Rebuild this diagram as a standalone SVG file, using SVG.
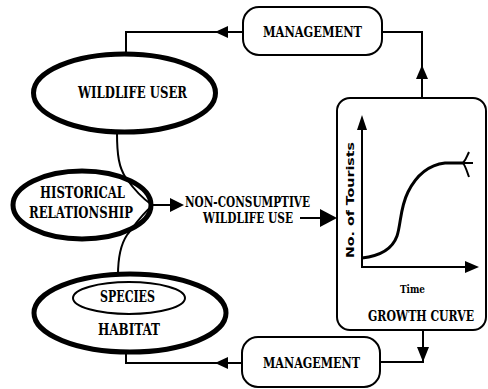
<svg xmlns="http://www.w3.org/2000/svg" width="488" height="389" viewBox="0 0 488 389">
<style>
.t{font-family:"DejaVu Serif Condensed","Liberation Serif",serif;font-weight:bold;fill:#000}
.thick{fill:none;stroke:#000;stroke-width:5}
.box{fill:#fff;stroke:#000;stroke-width:2}
.ln{fill:none;stroke:#000;stroke-width:2}
.ah{fill:#000;stroke:none}
</style>
<rect width="488" height="389" fill="#fff"/>
<g id="connectors">
  <path class="ln" d="M243,32 H126 V52"/>
  <path class="ah" d="M215,32 L228,26 L228,38 Z"/>
  <path class="ln" d="M382,32 H422 V98"/>
  <path class="ah" d="M422,65 L416,79 L428,79 Z"/>
  <path class="ln" d="M242,363 H126 V352"/>
  <path class="ah" d="M215,363 L228,357 L228,369 Z"/>
  <path class="ln" d="M423,330 V362 H380"/>
  <path class="ah" d="M423,362 L417,347 L429,347 Z"/>
  <path class="ln" d="M117,133 C117,155 119,168 126,178 C133,188 142,198 152,205"/>
  <path class="ln" d="M118,275 C118,255 121,244 127,235 C134,226 142,214 152,206"/>
  <path class="ln" d="M152,205 H172"/>
  <path class="ah" d="M184,205 L170,198 L170,212 Z"/>
  <path class="ln" d="M300,218 H322"/>
  <path class="ah" d="M337,218 L320,209 L320,227 Z"/>
</g>
<g id="management-top">
  <rect class="box" x="243" y="7" width="139" height="48" rx="16"/>
  <text class="t" x="263" y="37" font-size="14.5" textLength="99" lengthAdjust="spacingAndGlyphs">MANAGEMENT</text>
</g>
<g id="wildlife-user">
  <ellipse class="thick" cx="124.5" cy="93" rx="91" ry="39" fill="#fff"/>
  <text class="t" x="78" y="98" font-size="16" textLength="109" lengthAdjust="spacingAndGlyphs">WILDLIFE USER</text>
</g>
<g id="historical-relationship">
  <ellipse class="thick" cx="82" cy="205" rx="69" ry="34"/>
  <text class="t" x="40" y="198" font-size="16.5" textLength="85" lengthAdjust="spacingAndGlyphs">HISTORICAL</text>
  <text class="t" x="29" y="218" font-size="16.5" textLength="104" lengthAdjust="spacingAndGlyphs">RELATIONSHIP</text>
</g>
<g id="non-consumptive">
  <text class="t" x="185" y="207" font-size="14.5" textLength="125" lengthAdjust="spacingAndGlyphs">NON-CONSUMPTIVE</text>
  <text class="t" x="203" y="223" font-size="14.5" textLength="90" lengthAdjust="spacingAndGlyphs">WILDLIFE USE</text>
</g>
<g id="habitat">
  <ellipse class="thick" cx="130" cy="313" rx="96" ry="39"/>
  <ellipse cx="129" cy="298" rx="56" ry="16" fill="none" stroke="#000" stroke-width="2"/>
  <text class="t" x="100" y="302" font-size="16.5" textLength="55" lengthAdjust="spacingAndGlyphs">SPECIES</text>
  <text class="t" x="98" y="335" font-size="16.5" textLength="62" lengthAdjust="spacingAndGlyphs">HABITAT</text>
</g>
<g id="growth-curve">
  <rect class="box" x="337" y="98" width="149" height="232" rx="13"/>
  <path class="ln" d="M362,128 V267 H468"/>
  <path class="ah" d="M362,115 L357,130 L367,130 Z"/>
  <path class="ah" d="M479,267 L465,261 L465,273 Z"/>
  <path fill="none" stroke="#000" stroke-width="3" d="M362,258 C380,256 392,250 397,236 C401,224 400,208 408,192 C416,176 428,165 445,163 L463,163"/>
  <path fill="none" stroke="#000" stroke-width="2" d="M463,163 C466,160 467,156 469,152 M463,163 L473,163 M463,163 C466,167 467,172 469,177"/>
  <text x="354" y="200" transform="rotate(-90 354 200)" text-anchor="middle" font-family="DejaVu Sans,sans-serif" font-weight="bold" font-size="10.5" textLength="116" lengthAdjust="spacingAndGlyphs">No. of Tourists</text>
  <text class="t" x="400" y="293" font-size="11.5" textLength="25" lengthAdjust="spacingAndGlyphs">Time</text>
  <text class="t" transform="translate(368,321) scale(1,1.15)" x="0" y="0" font-size="13" textLength="106" lengthAdjust="spacingAndGlyphs">GROWTH CURVE</text>
</g>
<g id="management-bottom">
  <rect class="box" x="242" y="337" width="138" height="50" rx="16"/>
  <text class="t" x="263" y="368" font-size="14.5" textLength="97" lengthAdjust="spacingAndGlyphs">MANAGEMENT</text>
</g>
</svg>
